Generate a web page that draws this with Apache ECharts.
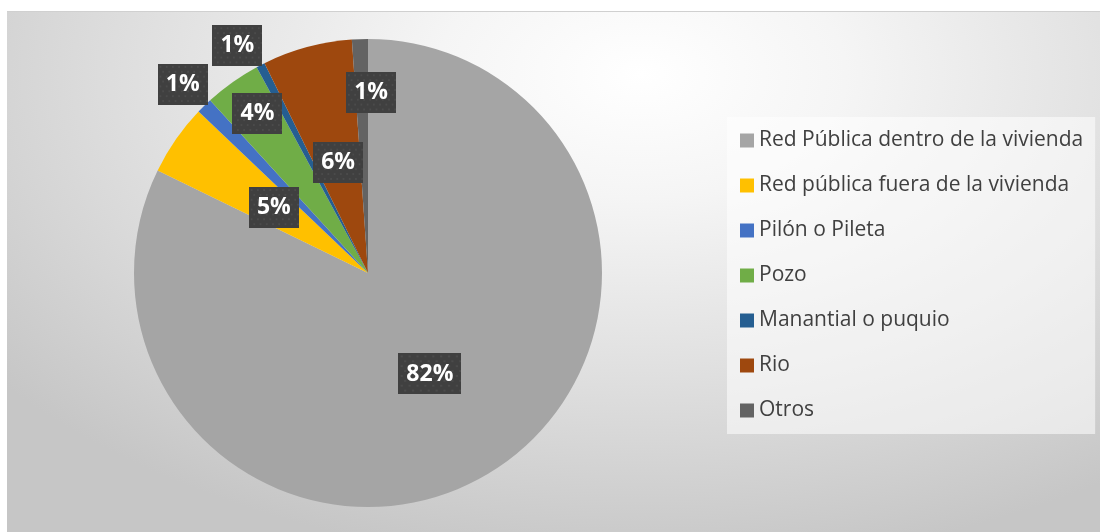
<!DOCTYPE html>
<html>
<head>
<meta charset="utf-8">
<script src="https://cdn.jsdelivr.net/npm/echarts@6/dist/echarts.min.js"></script>
<style>
  html, body { margin: 0; padding: 0; background: #ffffff; }
  #wrap { position: absolute; left: 0; top: 0; width: 1100px; height: 532px; background: #ffffff; }
  #bg { position: absolute; left: 7px; top: 11px; width: 1093px; height: 521px;
        border-top: 1px solid #d0d0d0; box-sizing: border-box;
        background: radial-gradient(ellipse 75% 95% at 58% 12%, #ffffff 0%, #f5f5f5 25%, #e0e0e0 60%, #c6c6c6 100%); }
  #chart { position: absolute; left: 0; top: 0; width: 1100px; height: 532px; }
</style>
</head>
<body>
<div id="wrap"><div id="bg"></div><div id="chart"></div></div>
<script>
const categories = [
  'Red Pública dentro de la vivienda',
  'Red pública fuera de la vivienda',
  'Pilón o Pileta',
  'Pozo',
  'Manantial o puquio',
  'Rio',
  'Otros'
];
const values = [82.3, 4.9, 1.1, 3.9, 0.6, 6.2, 1.1];
const colors = ['#A5A5A5', '#FFC000', '#4472C4', '#70AD47', '#255E91', '#9E480E', '#636363'];
// label placement: [angle clockwise from 12 o'clock (deg), fraction of radius]
const labelPolar = [[148.5, 0.506], [304.8, 0.49], [315.5, 1.13], [325.3, 0.83], [330.1, 1.12], [344.9, 0.49], [1.0, 0.77]];

// dotted dark texture for the data label boxes
function makeTexture(w, h) {
  const c = document.createElement('canvas');
  c.width = w; c.height = h;
  const g = c.getContext('2d');
  g.fillStyle = '#404040';
  g.fillRect(0, 0, w, h);
  g.fillStyle = '#4b4b4b';
  for (let y = 2, row = 0; y < h; y += 5, row++) {
    for (let x = (row % 2 ? 5 : 2); x < w; x += 7) {
      g.fillRect(x, y, 2, 2);
    }
  }
  return c;
}
const texture = makeTexture(56, 42);

const CX = 368, CY = 273, R = 234;
const chart = echarts.init(document.getElementById('chart'), null, { renderer: 'canvas' });
chart.setOption({
  animation: false,
  backgroundColor: 'transparent',
  color: colors,
  legend: {
    orient: 'vertical',
    left: 727,
    top: 117,
    padding: [13, 12, 13, 13],
    backgroundColor: 'rgba(255,255,255,0.55)',
    icon: 'rect',
    itemWidth: 14,
    itemHeight: 14,
    itemGap: 24,
    textStyle: { fontFamily: 'Open Sans', fontSize: 21, lineHeight: 21, color: '#404040' },
    data: categories
  },
  series: [{
    type: 'pie',
    center: [CX, CY],
    radius: R,
    startAngle: 90,
    clockwise: true,
    avoidLabelOverlap: false,
    labelLine: { show: false },
    itemStyle: { borderWidth: 0 },
    label: {
      show: true,
      position: 'inside',
      formatter: p => Math.round(p.percent) + '%',
      fontFamily: 'Open Sans',
      fontWeight: 'bold',
      fontSize: 23,
      lineHeight: 25,
      color: '#ffffff',
      backgroundColor: { image: texture },
      padding: [8, 8, 8, 8],
      shadowColor: 'rgba(0,0,0,0.45)',
      shadowBlur: 6,
      shadowOffsetX: 3,
      shadowOffsetY: 3
    },
    labelLayout: function (params) {
      const lp = labelPolar[params.dataIndex];
      const a = lp[0] * Math.PI / 180;
      return {
        x: CX + lp[1] * R * Math.sin(a),
        y: CY - lp[1] * R * Math.cos(a),
        align: 'center',
        verticalAlign: 'middle'
      };
    },
    data: categories.map((c, i) => ({ name: c, value: values[i] }))
  }]
});
</script>
</body>
</html>
